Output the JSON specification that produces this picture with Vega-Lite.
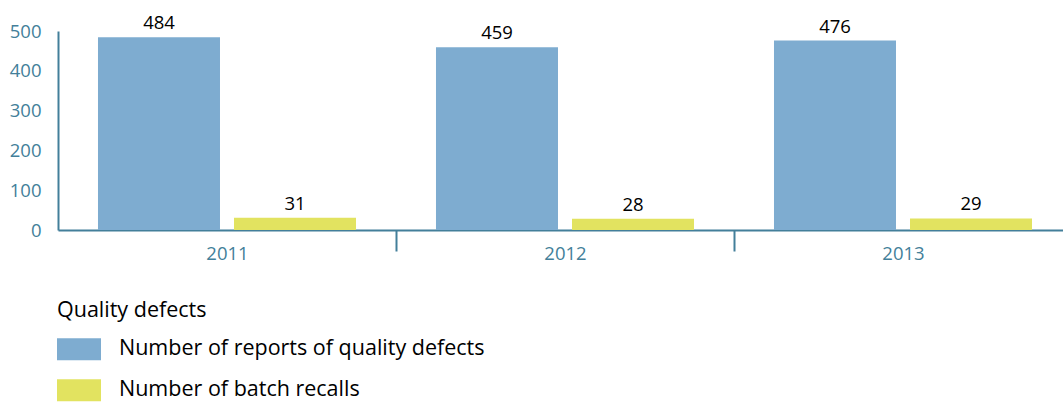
{
  "$schema": "https://vega.github.io/schema/vega-lite/v6.json",
  "width": 1005,
  "height": 199,
  "autosize": {"type": "none"},
  "padding": {"left": 58, "top": 31, "right": 0, "bottom": 175},
  "config": {"view": {"stroke": null}, "font": "Open Sans"},
  "data": {
    "values": [
      {"year": "2011", "series": "Number of reports of quality defects", "count": 484},
      {"year": "2011", "series": "Number of batch recalls", "count": 31},
      {"year": "2012", "series": "Number of reports of quality defects", "count": 459},
      {"year": "2012", "series": "Number of batch recalls", "count": 28},
      {"year": "2013", "series": "Number of reports of quality defects", "count": 476},
      {"year": "2013", "series": "Number of batch recalls", "count": 29}
    ]
  },
  "encoding": {
    "x": {
      "field": "year",
      "type": "nominal",
      "scale": {"paddingInner": 0, "paddingOuter": 0, "range": [0, 1014]},
      "axis": {
        "title": null,
        "labelAngle": 0,
        "tickBand": "extent",
        "tickSize": 21,
        "tickWidth": 2,
        "tickColor": "#437f9a",
        "tickOpacity": {"condition": {"test": "datum.value == null", "value": 0}, "value": 1},
        "domainColor": "#437f9a",
        "domainWidth": 2,
        "labelColor": "#437f9a",
        "labelFontSize": 18.5,
        "labelPadding": -7
      }
    },
    "xOffset": {
      "field": "series",
      "type": "nominal",
      "sort": ["Number of reports of quality defects", "Number of batch recalls"],
      "scale": {"paddingInner": 0.103, "paddingOuter": 0.294}
    },
    "y": {
      "field": "count",
      "type": "quantitative",
      "scale": {"domain": [0, 500]},
      "axis": {
        "title": null,
        "values": [0, 100, 200, 300, 400, 500],
        "ticks": false,
        "grid": false,
        "domainColor": "#437f9a",
        "domainWidth": 2,
        "labelColor": "#437f9a",
        "labelFontSize": 18.5,
        "labelPadding": 17
      }
    }
  },
  "layer": [
    {
      "mark": {"type": "bar"},
      "encoding": {
        "color": {
          "field": "series",
          "type": "nominal",
          "scale": {
            "domain": ["Number of reports of quality defects", "Number of batch recalls"],
            "range": ["#7eacd0", "#e2e360"]
          },
          "legend": {
            "title": "Quality defects",
            "orient": "none",
            "legendX": -1,
            "legendY": 268.7,
            "direction": "vertical",
            "padding": 0,
            "symbolType": "M-1,-0.5H1V0.5H-1Z",
            "symbolSize": 1936,
            "symbolStrokeWidth": 0,
            "symbolOpacity": 1,
            "labelFontSize": 21.5,
            "labelColor": "#000000",
            "labelOffset": 18,
            "labelLimit": 600,
            "titleFontSize": 21.5,
            "titleFontWeight": "normal",
            "titleColor": "#000000",
            "titlePadding": 6,
            "rowPadding": 8
          }
        }
      }
    },
    {
      "mark": {"type": "text", "dy": -8, "baseline": "alphabetic", "fontSize": 18.5, "color": "#000000"},
      "encoding": {"text": {"field": "count", "type": "quantitative"}}
    }
  ]
}
